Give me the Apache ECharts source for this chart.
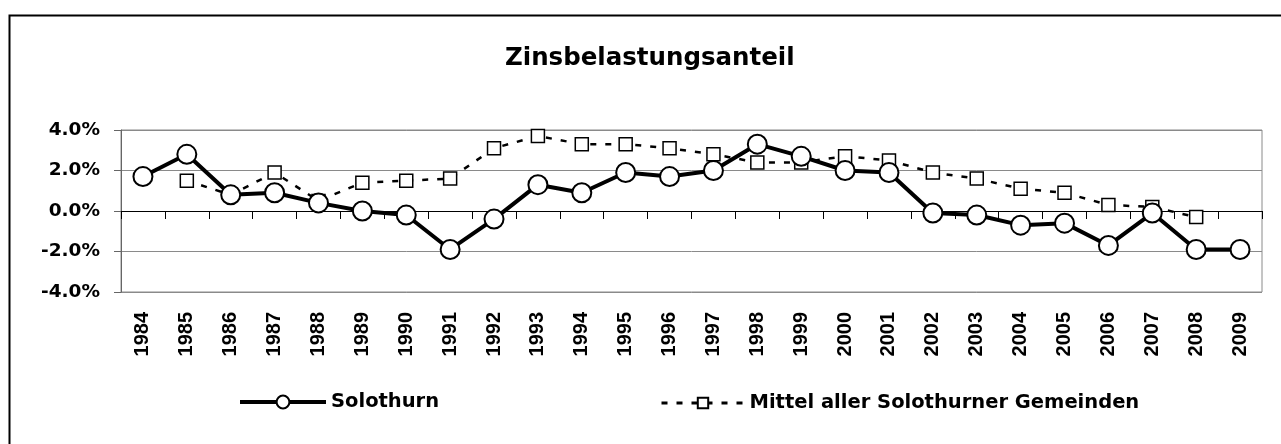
<!DOCTYPE html>
<html>
<head>
<meta charset="utf-8">
<title>Zinsbelastungsanteil</title>
<script src="https://cdn.jsdelivr.net/npm/echarts@6/dist/echarts.min.js"></script>
<style>
    html, body { margin: 0; padding: 0; background: #fff; }
    #chart { width: 1281px; height: 444px; }
</style>
</head>
<body>
<div id="chart"></div>
<script>
// Jahre
var years = ['1984', '1985', '1986', '1987', '1988', '1989', '1990', '1991', '1992', '1993',
    '1994', '1995', '1996', '1997', '1998', '1999', '2000', '2001', '2002', '2003',
    '2004', '2005', '2006', '2007', '2008', '2009'];
// Solothurn (in %)
var solothurn = [1.7, 2.8, 0.8, 0.9, 0.4, 0.0, -0.2, -1.9, -0.4, 1.3,
    0.9, 1.9, 1.7, 2.0, 3.3, 2.7, 2.0, 1.9, -0.1, -0.2,
    -0.7, -0.6, -1.7, -0.1, -1.9, -1.9];
// Mittel aller Solothurner Gemeinden (in %)
var mittel = [null, 1.5, 0.8, 1.9, 0.5, 1.4, 1.5, 1.6, 3.1, 3.7,
    3.3, 3.3, 3.1, 2.8, 2.4, 2.4, 2.7, 2.5, 1.9, 1.6,
    1.1, 0.9, 0.3, 0.2, -0.3, null];
var yTicks = [-4, -2, 0, 2, 4];

var chart = echarts.init(document.getElementById('chart'), null, { renderer: 'canvas' });
var boldFont = 'DejaVu Sans';
var gridGray = '#8a8a8a';

var option = {
    animation: false,
    backgroundColor: '#fff',
    title: {
        text: 'Zinsbelastungsanteil',
        left: 500,
        top: 41,
        textStyle: { fontFamily: boldFont, fontWeight: 'bold', fontSize: 24.5, color: '#000' }
    },
    legend: [
        {
            data: ['Solothurn'],
            left: 238,
            top: 392,
            padding: 0,
            itemWidth: 86,
            itemHeight: 16,
            lineStyle: { width: 4 },
            textStyle: { fontFamily: boldFont, fontWeight: 'bold', fontSize: 19.5, color: '#000' }
        },
        {
            data: ['Mittel aller Solothurner Gemeinden'],
            left: 660,
            top: 393,
            padding: 0,
            itemWidth: 83,
            itemHeight: 13,
            lineStyle: { width: 3 },
            textStyle: { fontFamily: boldFont, fontWeight: 'bold', fontSize: 19.5, color: '#000' }
        }
    ],
    grid: {
        left: 121,
        right: 19,
        top: 130,
        bottom: 152,
        show: true,
        borderColor: gridGray,
        borderWidth: 1
    },
    xAxis: [
        {
            type: 'category',
            data: years,
            position: 'bottom',
            axisLine: { show: false, onZero: false },
            axisTick: { show: false },
            splitLine: { show: false },
            axisLabel: {
                rotate: 90,
                margin: 20,
                interval: 0,
                fontFamily: 'Liberation Sans',
                fontWeight: 'bold',
                fontSize: 20,
                color: '#000'
            }
        },
        {
            type: 'category',
            data: years,
            position: 'bottom',
            axisLine: { show: true, onZero: true, lineStyle: { color: '#000', width: 1 } },
            axisTick: { show: true, length: 8, interval: 0, lineStyle: { color: '#000' } },
            axisLabel: { show: false },
            splitLine: { show: false }
        }
    ],
    yAxis: {
        type: 'value',
        min: yTicks[0],
        max: yTicks[yTicks.length - 1],
        interval: 2,
        axisLine: { show: true, lineStyle: { color: '#666', width: 1 } },
        axisTick: { show: true, length: 7, lineStyle: { color: '#666' } },
        splitLine: { show: true, lineStyle: { color: gridGray, width: 1 } },
        axisLabel: {
            margin: 21,
            fontFamily: boldFont,
            fontWeight: 'bold',
            fontSize: 18.5,
            color: '#000',
            formatter: function (v) { return v.toFixed(1) + '%'; }
        }
    },
    series: [
        {
            name: 'Mittel aller Solothurner Gemeinden',
            type: 'line',
            data: mittel,
            symbol: 'rect',
            symbolSize: 13,
            lineStyle: { color: '#000', width: 2.5, type: [6, 9] },
            itemStyle: { color: '#fff', borderColor: '#000', borderWidth: 1.5 },
            emphasis: { disabled: true },
            z: 2
        },
        {
            name: 'Solothurn',
            type: 'line',
            data: solothurn,
            symbol: 'circle',
            symbolSize: 19,
            lineStyle: { color: '#000', width: 4 },
            itemStyle: { color: '#fff', borderColor: '#000', borderWidth: 2 },
            emphasis: { disabled: true },
            z: 3
        }
    ],
    graphic: [
        {
            type: 'rect',
            left: 7,
            top: 13,
            shape: { x: 0, y: 0, width: 1300, height: 460 },
            style: { fill: 'none', stroke: '#000', lineWidth: 2 },
            silent: true
        }
    ]
};

chart.setOption(option);
window.onresize = chart.resize;
</script>
</body>
</html>
